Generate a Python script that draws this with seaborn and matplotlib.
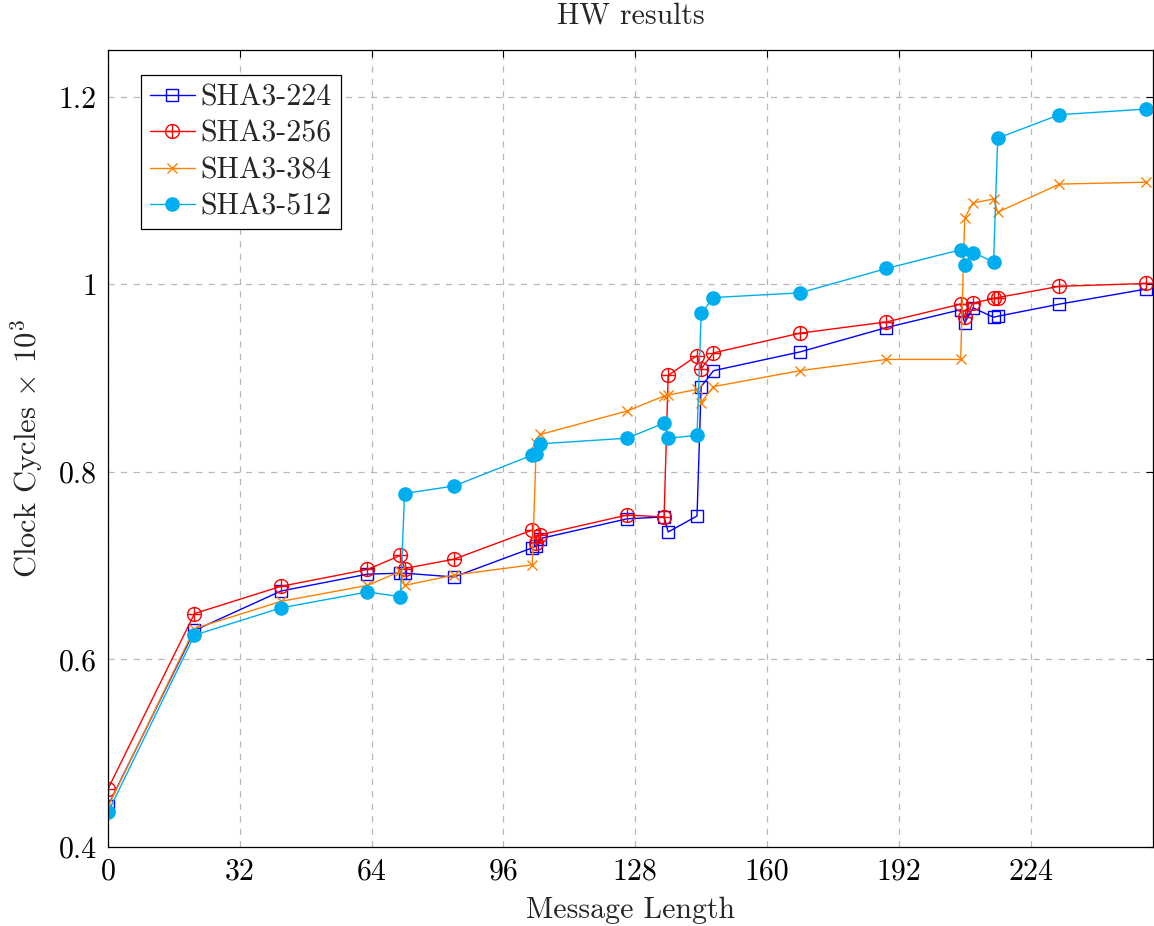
import matplotlib
matplotlib.use('Agg')
import matplotlib.pyplot as plt
from matplotlib.path import Path
import seaborn as sns

# message lengths (bytes) that were measured
msg_len = [0, 21, 42, 63, 71, 72, 84, 103, 104, 105, 126, 135, 136, 143, 144,
           147, 168, 189, 207, 208, 210, 215, 216, 231, 252]

# clock cycles x 10^3
sha3_224 = [0.444, 0.631, 0.673, 0.691, 0.692, 0.692, 0.688, 0.719, 0.721, 0.729,
            0.750, 0.752, 0.736, 0.753, 0.891, 0.908, 0.928, 0.954, 0.973, 0.959,
            0.975, 0.965, 0.966, 0.979, 0.995]
sha3_256 = [0.462, 0.649, 0.678, 0.696, 0.711, 0.697, 0.707, 0.738, 0.724, 0.733,
            0.754, 0.752, 0.903, 0.924, 0.910, 0.927, 0.948, 0.960, 0.979, 0.965,
            0.980, 0.985, 0.986, 0.998, 1.001]
sha3_384 = [0.443, 0.633, 0.662, 0.679, 0.694, 0.679, 0.690, 0.701, 0.831, 0.840,
            0.865, 0.881, 0.882, 0.888, 0.874, 0.891, 0.908, 0.920, 0.920, 1.071,
            1.087, 1.091, 1.077, 1.107, 1.109]
sha3_512 = [0.437, 0.626, 0.655, 0.672, 0.667, 0.777, 0.785, 0.818, 0.819, 0.830,
            0.836, 0.852, 0.836, 0.839, 0.969, 0.986, 0.991, 1.017, 1.037, 1.021,
            1.034, 1.024, 1.156, 1.181, 1.187]

names = ['SHA3-224', 'SHA3-256', 'SHA3-384', 'SHA3-512']
xticks = [0, 32, 64, 96, 128, 160, 192, 224]
yticks = [0.4, 0.6, 0.8, 1, 1.2]
ytick_labels = ['0.4', '0.6', '0.8', '1', '1.2']

sns.set_style('white')
plt.rcParams['font.family'] = ['cmr10']
plt.rcParams['mathtext.fontset'] = 'cm'
plt.rcParams['axes.unicode_minus'] = False
plt.rcParams['axes.formatter.use_mathtext'] = True

FS = 21.5

fig = plt.figure(figsize=(11.54, 9.26), dpi=100)
ax = fig.add_axes([108 / 1154, 1 - 847 / 926, 1045 / 1154, 797 / 926])

# circle with a plus inside (pgfplots oplus)
oplus = Path.make_compound_path(Path.unit_circle(),
                                Path([(-1, 0), (1, 0)]),
                                Path([(0, -1), (0, 1)]))

styles = [
    (sha3_224, 'blue', 's', 'none', 9),
    (sha3_256, 'red', oplus, 'none', 10),
    (sha3_384, '#ff8000', 'x', 'none', 7),
    (sha3_512, '#00aeef', 'o', '#00aeef', 9.5),
]

for name, (vals, col, mk, mfc, ms) in zip(names, styles):
    sns.lineplot(x=msg_len, y=vals, ax=ax, color=col, marker=mk, markersize=ms,
                 markerfacecolor=mfc, markeredgecolor=col, markeredgewidth=1.0,
                 linewidth=1.0, label=name, sort=False, estimator=None,
                 errorbar=None)

ax.set_xlim(0, 253.7)
ax.set_ylim(0.4, 1.25)
ax.set_xticks(xticks)
ax.set_xticklabels([str(t) for t in xticks])
ax.set_yticks(yticks)
ax.set_yticklabels(ytick_labels)
ax.tick_params(direction='in', length=5, width=0.8, top=True, right=True,
               labelsize=FS, pad=8, colors='black')

ax.grid(True, color='#b8b8b8', linestyle=(0, (5, 5)), linewidth=0.9)
ax.set_axisbelow(True)
for sp in ax.spines.values():
    sp.set_visible(True)
    sp.set_color('black')
    sp.set_linewidth(0.9)

ax.set_title('HW results', fontsize=FS, pad=19)
ax.set_xlabel('Message Length', fontsize=FS, labelpad=8)
ax.set_ylabel(r'Clock Cycles $\times$ $10^3$', fontsize=FS + 0.5, labelpad=10)

leg = ax.legend(loc='upper left', bbox_to_anchor=((141 - 108) / 1045, (847 - 75) / 797),
                borderaxespad=0, fontsize=FS, frameon=True, fancybox=False,
                edgecolor='black', framealpha=1, handlelength=1.5,
                handletextpad=0.2, labelspacing=0.3, borderpad=0.3)
leg.get_frame().set_linewidth(0.9)

fig.savefig('out.png', dpi=100)
